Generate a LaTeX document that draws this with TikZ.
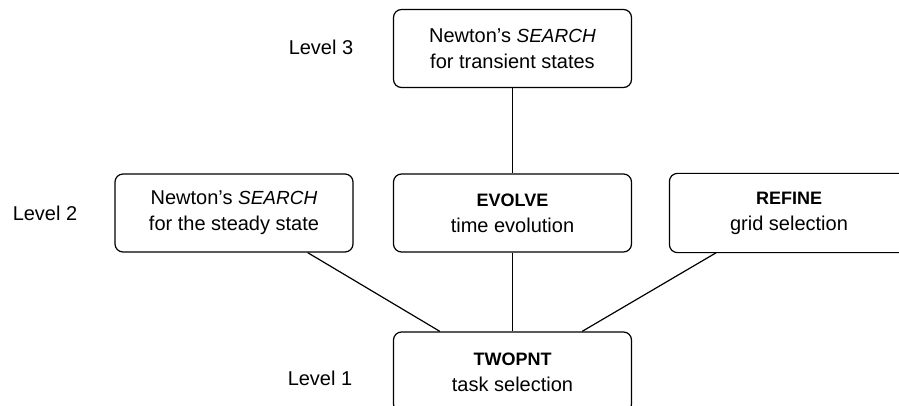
\documentclass[tikz,border=0pt]{standalone}
\usepackage{fontspec}
\setmainfont{Liberation Sans}
\usetikzlibrary{positioning, calc}

\newcommand{\prog}[1]{{\bfseries\fontsize{18}{22}\selectfont #1}}
\newcommand{\srch}{{\itshape\fontsize{19}{26}\selectfont SEARCH}}

\begin{document}
\begin{tikzpicture}[x=1pt, y=-1pt,
    task/.style={draw, line width=1.2pt, rounded corners=8pt, align=center,
        minimum width=238pt, minimum height=78pt, inner sep=0pt,
        font=\fontsize{20}{26}\selectfont},
    level/.style={font=\fontsize{20}{26}\selectfont},
    link/.style={line width=1.2pt}]
\useasboundingbox (0,0) rectangle (899,406);
\clip (0,0) rectangle (899,406);
\coordinate (edge) at (899,0);

% Level labels
\node[level] (l3) at (321,47) {Level 3};
\node[level] (l2) at (45,213) {Level 2};
\node[level] (l1) at (320,378) {Level 1};

% Level 3
\node[task] (transient) at (512.5,48.5) {Newton's \srch\\for transient states};

% Level 2
\node[task] (steady) at (234,213) {Newton's \srch\\for the steady state};
\node[task] (evolve) at (512.5,213) {\prog{EVOLVE}\\time evolution};
% box runs off the right margin
\node[task, draw=none] (refine) at (789,213) {\prog{REFINE}\\grid selection};
\draw[link, rounded corners=8pt] (refine.north west -| edge) -- (refine.north west)
    -- (refine.south west) -- (refine.south west -| edge);

% Level 1
\node[task, minimum height=80pt] (twopnt) at (512.5,372) {\prog{TWOPNT}\\task selection};

% Connections
\draw[link] (transient) -- (evolve);
\draw[link] (evolve) -- (twopnt);
\draw[link] ([xshift=-46pt]steady.south east) -- ([xshift=47pt]twopnt.north west);
\draw[link] ([xshift=47pt]refine.south west) -- ([xshift=-50pt]twopnt.north east);
\end{tikzpicture}
\end{document}
